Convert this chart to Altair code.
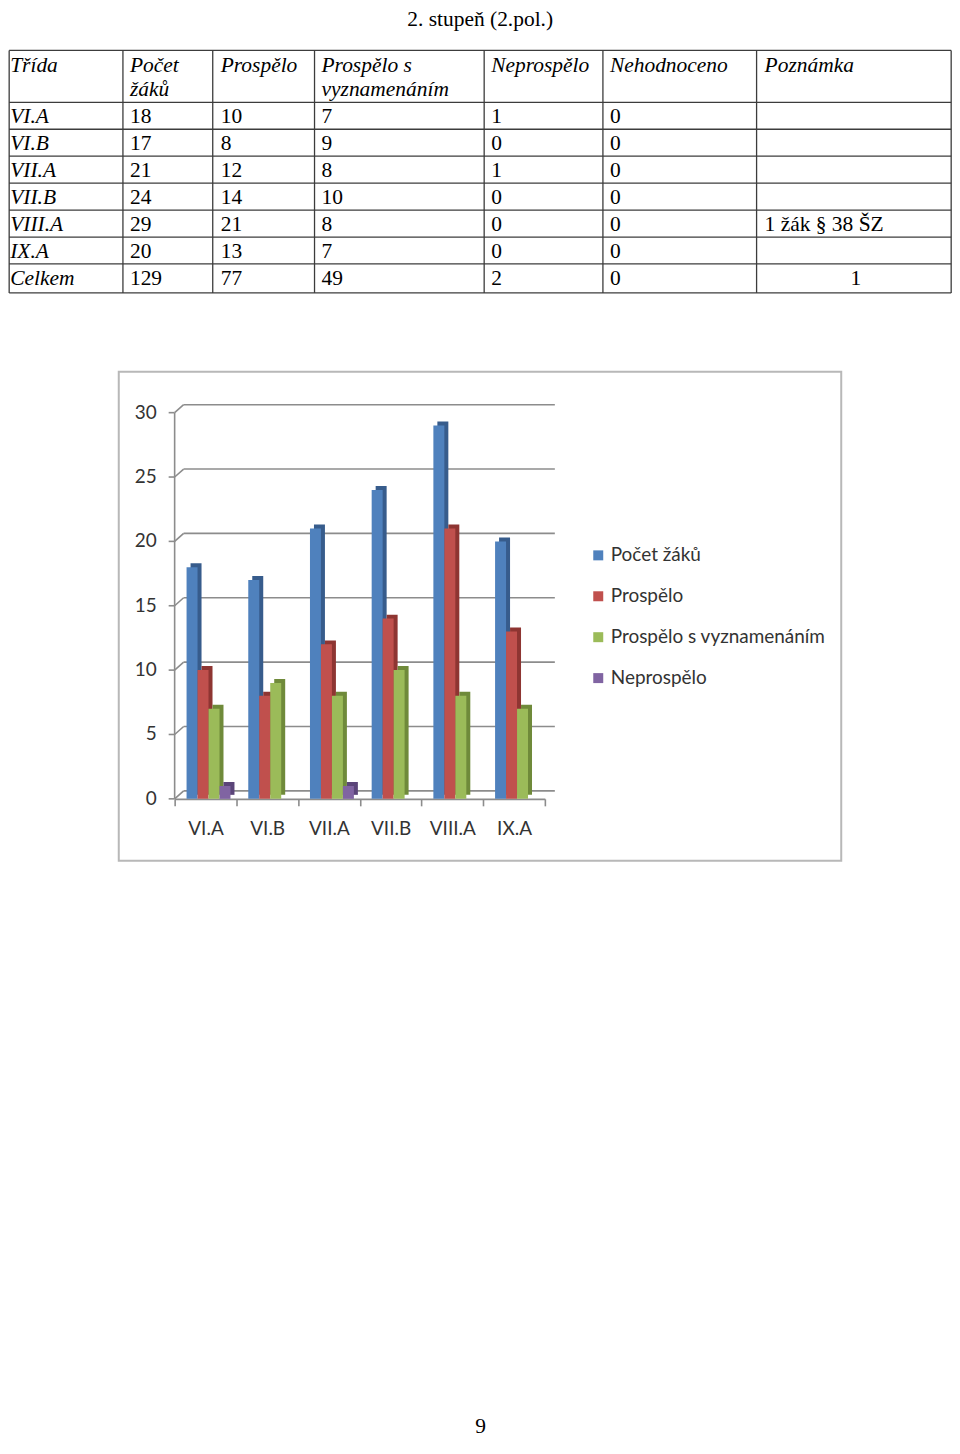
import altair as alt
import pandas as pd

# ---------------- data ----------------
page_title = ["2. stupeň (2.pol.)"]
page_number = ["9"]
headers = ["Třída", "Počet\nžáků", "Prospělo", "Prospělo s\nvyznamenáním",
           "Neprospělo", "Nehodnoceno", "Poznámka"]
classes = ["VI.A", "VI.B", "VII.A", "VII.B", "VIII.A", "IX.A"]
pocet_zaku = [18, 17, 21, 24, 29, 20]
prospelo = [10, 8, 12, 14, 21, 13]
prospelo_vyz = [7, 9, 8, 10, 8, 7]
neprospelo = [1, 0, 1, 0, 0, 0]
nehodnoceno = [0, 0, 0, 0, 0, 0]
poznamka = ["", "", "", "", "1 žák § 38 ŠZ", ""]
celkem = ["Celkem", "129", "77", "49", "2", "0", "1"]
series = ["Počet žáků", "Prospělo", "Prospělo s vyznamenáním", "Neprospělo"]
y_ticks = [0, 5, 10, 15, 20, 25, 30]

# ---------------- styles / layout ----------------
colors = ["#4F81BD", "#C0504D", "#9BBB59", "#8064A2"]
side_colors = ["#375C8C", "#8E3532", "#6F8A3A", "#5B4579"]
serif = "Liberation Serif"
sans = "Lato"
fs = 21.5
line_col = "#3c3c3c"
grid_col = "#8c8c8c"
label_col = "#333333"
TW, TH = 944, 284
col_edges = [0, 114, 204, 306, 476, 595, 749, 944]
text_x = [1, 121, 212, 313, 483, 602, 757]
row_edges = [41, 93, 120, 147, 174, 201, 228, 255, 284]

# ---------------- table panel ----------------
cells = [dict(x=TW / 2, y=17, text=page_title[0], style="title")]
for j, h in enumerate(headers):
    cells.append(dict(x=text_x[j], y=row_edges[0] + 21.5, text=h, style="header"))
body = [[classes[i], pocet_zaku[i], prospelo[i], prospelo_vyz[i], neprospelo[i],
         nehodnoceno[i], poznamka[i]] for i in range(len(classes))]
body.append(celkem)
for i, row in enumerate(body):
    y = row_edges[i + 1] + 20.8
    for j, v in enumerate(row):
        if v == "":
            continue
        if j == 0:
            st = "italic"
        elif i == len(body) - 1 and j == 6:
            st = "center"
        else:
            st = "normal"
        x = (col_edges[6] + col_edges[7]) / 2 + 2 if st == "center" else text_x[j]
        cells.append(dict(x=x, y=y, text=str(v), style=st))
cells_df = pd.DataFrame(cells)

tx = alt.Scale(domain=[0, TW], nice=False, zero=False)
ty = alt.Scale(domain=[0, TH], nice=False, zero=False, reverse=True)

base = alt.Chart(cells_df).encode(
    x=alt.X("x:Q", scale=tx, axis=None),
    y=alt.Y("y:Q", scale=ty, axis=None),
    text="text:N",
)
t_title = base.transform_filter(alt.datum.style == "title").mark_text(
    font=serif, fontSize=fs, align="center", baseline="alphabetic", color="#000")
t_head = base.transform_filter(alt.datum.style == "header").mark_text(
    font=serif, fontSize=fs, fontStyle="italic", align="left", baseline="alphabetic",
    lineBreak="\n", lineHeight=24, color="#000")
t_ital = base.transform_filter(alt.datum.style == "italic").mark_text(
    font=serif, fontSize=fs, fontStyle="italic", align="left", baseline="alphabetic", color="#000")
t_norm = base.transform_filter(alt.datum.style == "normal").mark_text(
    font=serif, fontSize=fs, align="left", baseline="alphabetic", color="#000")
t_cent = base.transform_filter(alt.datum.style == "center").mark_text(
    font=serif, fontSize=fs, align="center", baseline="alphabetic", color="#000")

hlines = alt.Chart(pd.DataFrame({"y": row_edges})).mark_rule(
    color=line_col, strokeWidth=1.3).encode(
    y=alt.Y("y:Q", scale=ty, axis=None), x=alt.value(0), x2=alt.value(TW))
vlines = alt.Chart(pd.DataFrame({"x": col_edges})).mark_rule(
    color=line_col, strokeWidth=1.3).encode(
    x=alt.X("x:Q", scale=tx, axis=None), y=alt.value(row_edges[0]), y2=alt.value(row_edges[-1]))

table = alt.layer(hlines, vlines, t_title, t_head, t_ital, t_norm, t_cent).properties(
    width=TW, height=TH)

# ---------------- bar chart panel ----------------
vals = [pocet_zaku, prospelo, prospelo_vyz, neprospelo]
rows = []
for s_i, s in enumerate(series):
    for c_i, c in enumerate(classes):
        rows.append(dict(trida=c, serie=s, value=vals[s_i][c_i], side=side_colors[s_i]))
bars_df = pd.DataFrame(rows)

CW, CH = 724, 490
AX = 56  # y-axis position inside the frame
x_front = alt.Scale(domain=classes, range=[AX, 427], paddingInner=0, paddingOuter=0)
x_back = alt.Scale(domain=classes, range=[AX + 4, 431], paddingInner=0, paddingOuter=0)
xo_scale = alt.Scale(domain=series, paddingInner=0, paddingOuter=0.81, align=0.67)
y_scale = alt.Scale(domain=[0, 30], range=[428, 41], nice=False, zero=True)

grid_df = pd.DataFrame({"tick": y_ticks})
gy = alt.Y("tick:Q", scale=y_scale, axis=None)

grid = alt.Chart(grid_df).mark_rule(color=grid_col, strokeWidth=1.6, yOffset=-8).encode(
    y=gy, x=alt.value(AX + 9), x2=alt.value(437))
conn = alt.Chart(grid_df).mark_rule(color=grid_col, strokeWidth=1.6, y2Offset=-8).encode(
    y=gy, y2=alt.Y2("tick:Q"), x=alt.value(AX), x2=alt.value(AX + 9))
yticks = alt.Chart(grid_df).mark_rule(color=grid_col, strokeWidth=1.6).encode(
    y=gy, x=alt.value(AX - 6), x2=alt.value(AX))
ydomain = alt.Chart(grid_df).mark_rule(color=grid_col, strokeWidth=1.6).encode(
    y=alt.Y("min(tick):Q", scale=y_scale, axis=None), y2=alt.Y2("max(tick):Q"),
    x=alt.value(AX))
ylabels = alt.Chart(grid_df).mark_text(
    font=sans, fontSize=19, color=label_col, align="right", baseline="middle").encode(
    y=gy, x=alt.value(AX - 18), text="tick:Q")

back = alt.Chart(bars_df).mark_bar(yOffset=-4, y2Offset=-4).encode(
    x=alt.X("trida:N", scale=x_back, sort=classes, axis=None),
    xOffset=alt.XOffset("serie:N", scale=xo_scale, sort=series),
    y=alt.Y("value:Q", scale=y_scale, axis=None),
    fill=alt.Fill("side:N", scale=None),
)

front = alt.Chart(bars_df).mark_bar().encode(
    x=alt.X("trida:N", scale=x_front, sort=classes, title=None,
            axis=alt.Axis(orient="bottom", offset=-62, tickBand="extent", labelAngle=0,
                          domainColor=grid_col, domainWidth=1.6, tickColor=grid_col,
                          tickWidth=1.6, tickSize=7, labelFont=sans, labelFontSize=19,
                          labelColor=label_col, labelPadding=14, grid=False)),
    xOffset=alt.XOffset("serie:N", scale=xo_scale, sort=series),
    y=alt.Y("value:Q", scale=y_scale, axis=None),
    color=alt.Color("serie:N", sort=series,
                    scale=alt.Scale(domain=series, range=colors),
                    legend=alt.Legend(orient="none", legendX=471, legendY=174.5, title=None,
                                      symbolType="square", symbolSize=100,
                                      symbolStrokeWidth=0, labelFont=sans,
                                      labelFontSize=19, labelColor=label_col,
                                      labelOffset=3, rowPadding=21, padding=0,
                                      labelLimit=0)),
)

bars = alt.layer(grid, conn, yticks, ydomain, ylabels, back, front).resolve_scale(
    x="independent", xOffset="independent").properties(
    width=CW, height=CH,
    view=alt.ViewBackground(stroke="#b8b8b8", strokeWidth=2))

# ---------------- page number ----------------
pnum = alt.Chart(pd.DataFrame({"t": page_number})).mark_text(
    font=serif, fontSize=fs, baseline="middle", align="center", color="#000").encode(
    x=alt.value(10), y=alt.value(490), text="t:N").properties(width=20, height=500)

chart = alt.vconcat(table, bars, pnum, spacing=77, center=True).resolve_legend(
    color="independent").properties(
    padding=0, background="white").configure_view(strokeWidth=0)

chart.save("out.html", embed_options={"renderer": "svg", "actions": False})
